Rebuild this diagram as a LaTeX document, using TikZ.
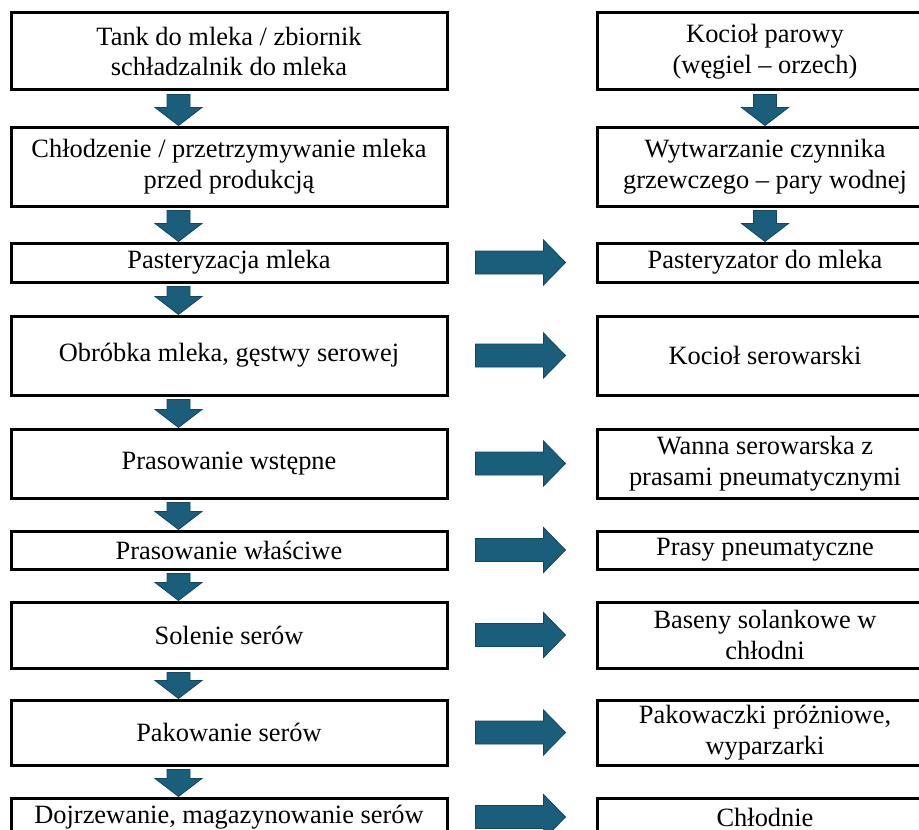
\documentclass[tikz,border=0pt]{standalone}
\usepackage{fontspec}
\setmainfont{Liberation Serif}
\usetikzlibrary{positioning,calc}

\definecolor{arrowfill}{RGB}{26,94,124}
\definecolor{arrowline}{RGB}{20,70,96}

\tikzset{
  stagebox/.style={draw=black, line width=1.5pt, fill=white, align=center,
    font=\fontsize{13.2}{15.2}\selectfont, inner sep=0pt},
  leftbox/.style={stagebox, minimum width=218pt},
  rightbox/.style={stagebox, minimum width=168pt},
  flowarrow/.style={fill=arrowfill, draw=arrowline, line width=0.4pt, line join=miter}
}

\begin{document}
\begin{tikzpicture}[x=0.5pt, y=-0.5pt]
  \useasboundingbox (0,0) rectangle (919,829);
  \clip (0,0) rectangle (919,829);

  % lewa kolumna - etapy produkcji
  \node[leftbox, minimum height=38.5pt] (l1) at (229,51.5)
    {Tank do mleka / zbiornik\\schładzalnik do mleka};
  \node[leftbox, minimum height=39.5pt] (l2) at (229,166.5)
    {Chłodzenie / przetrzymywanie mleka\\przed produkcją};
  \node[leftbox, minimum height=19.5pt] (l3) at (229,262.5)
    {Pasteryzacja mleka};
  \node[leftbox, minimum height=39.5pt] (l4) at (229,355.5)
    {Obróbka mleka, gęstwy serowej};
  \node[leftbox, minimum height=34.5pt] (l5) at (229,463.5)
    {Prasowanie wstępne};
  \node[leftbox, minimum height=19pt] (l6) at (229,550)
    {Prasowanie właściwe};
  \node[leftbox, minimum height=33pt] (l7) at (229,635)
    {Solenie serów};
  \node[leftbox, minimum height=32.5pt] (l8) at (229,732.5)
    {Pakowanie serów};
  \node[leftbox, minimum height=19pt] (l9) at (229,817)
    {Dojrzewanie, magazynowanie serów};

  % prawa kolumna - urzadzenia
  \node[rightbox, minimum height=38.5pt] (r1) at (765,51.5)
    {Kocioł parowy\\(węgiel – orzech)};
  \node[rightbox, minimum height=39.5pt] (r2) at (765,166.5)
    {Wytwarzanie czynnika\\grzewczego – pary wodnej};
  \node[rightbox, minimum height=19.5pt] (r3) at (765,262.5)
    {Pasteryzator do mleka};
  \node[rightbox, minimum height=39.5pt] (r4) at (765,355.5)
    {Kocioł serowarski};
  \node[rightbox, minimum height=34.5pt] (r5) at (765,463.5)
    {Wanna serowarska z\\prasami pneumatycznymi};
  \node[rightbox, minimum height=19pt] (r6) at (765,550)
    {Prasy pneumatyczne};
  \node[rightbox, minimum height=33pt] (r7) at (765,635)
    {Baseny solankowe w\\chłodni};
  \node[rightbox, minimum height=32.5pt] (r8) at (765,732.5)
    {Pakowaczki próżniowe,\\wyparzarki};
  \node[rightbox, minimum height=19pt] (r9) at (765,817)
    {Chłodnie};

  % strzalki w dol - lewa kolumna
  \foreach \a/\b in {l1/l2, l2/l3, l3/l4, l4/l5, l5/l6, l6/l7, l7/l8, l8/l9}{
    \coordinate (s) at ([xshift=-25.25pt,yshift=-1.5pt]\a.south);
    \coordinate (t) at ([xshift=-25.25pt]\b.north);
    \draw[flowarrow] let \p1=(s), \p2=(t) in
      (\x1-5.75pt,\y1) -- (\x1+5.75pt,\y1) -- (\x1+5.75pt,\y2+9pt)
      -- (\x1+11.75pt,\y2+9pt) -- (\x1,\y2) -- (\x1-11.75pt,\y2+9pt)
      -- (\x1-5.75pt,\y2+9pt) -- cycle;
  }

  % strzalki w dol - prawa kolumna
  \foreach \a/\b in {r1/r2, r2/r3}{
    \coordinate (s) at ([yshift=-1.5pt]\a.south);
    \coordinate (t) at (\b.north);
    \draw[flowarrow] let \p1=(s), \p2=(t) in
      (\x1-5.75pt,\y1) -- (\x1+5.75pt,\y1) -- (\x1+5.75pt,\y2+9pt)
      -- (\x1+11.75pt,\y2+9pt) -- (\x1,\y2) -- (\x1-11.75pt,\y2+9pt)
      -- (\x1-5.75pt,\y2+9pt) -- cycle;
  }

  % strzalki poziome
  \foreach \n in {3,...,9}{
    \coordinate (s) at ([xshift=13.5pt]l\n.east);
    \coordinate (t) at ([xshift=-15pt]r\n.west);
    \draw[flowarrow] let \p1=(s), \p2=(t) in
      (\x1,\y1-5.75pt) -- (\x2-11pt,\y1-5.75pt) -- (\x2-11pt,\y1-11.25pt)
      -- (\x2,\y1) -- (\x2-11pt,\y1+11.25pt) -- (\x2-11pt,\y1+5.75pt)
      -- (\x1,\y1+5.75pt) -- cycle;
  }
\end{tikzpicture}
\end{document}
